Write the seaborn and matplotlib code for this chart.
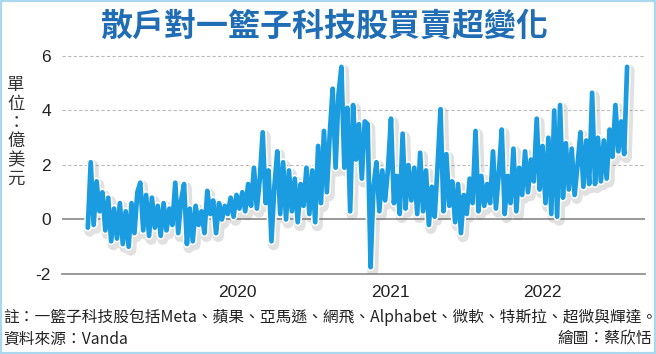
import pandas as pd
import matplotlib
matplotlib.use('Agg')
import matplotlib.pyplot as plt
import matplotlib.patheffects as pe
from matplotlib.patches import Rectangle
import seaborn as sns

# 散戶對一籃子科技股每週買賣超（億美元）
v2019 = [-0.3, 2.1, -0.2, 1.4, 0.3, 1.0, -0.4, 0.8, -0.8, 0.4,
         -0.7, 0.6, -0.9, 0.3, -1.0, 0.6, -0.5, 1.0, 1.35, -0.4,
         0.9, -0.6, 0.8, -0.3, 0.5, -0.6, 0.6, -0.4, 0.4, -0.2,
         1.35, -0.5, 0.7, 1.3, -0.9, 0.4, -0.8, 0.5, -0.2, 0.3,
         -0.5, 1.05, 0.2, 0.7, -0.5, 0.6, 0.0, 0.5, 0.2, 0.8,
         0.1, 0.9]
v2020 = [0.4, 1.0, 0.3, 1.3, 0.5, 1.9, 0.4, 1.5, 3.2, 0.6,
         1.8, -0.8, 1.2, 2.5, 0.2, 2.1, 0.0, 1.8, 0.3, 1.5,
         -0.1, 1.3, 0.5, 1.9, 0.2, 1.8, -0.1, 2.7, 0.6, 3.25,
         1.0, 3.15, 4.8, 1.9, 4.6, 5.6, 1.9, 4.1, 0.3, 4.2,
         2.2, 3.5, 1.5, 3.6, 3.5, -1.75, 1.2, 2.1, 0.3, 1.8,
         0.7, 1.9]
v2021 = [3.7, 0.6, 1.6, 0.2, 3.15, 0.4, 2.0, 0.7, 1.9, 0.2,
         2.45, 0.3, 1.8, -0.2, 1.2, 0.1, 2.0, 4.05, 0.3, 2.4,
         0.5, 1.4, -0.1, 1.3, -0.5, 0.9, 0.2, 1.5, 0.6, 3.25,
         0.3, 1.6, 0.5, 1.3, 0.6, 2.5, 0.4, 1.7, 3.3, 0.2,
         1.6, 0.6, 2.6, 0.3, 1.9, 0.9, 2.5, 1.0, 2.2, 1.4,
         3.7, 1.1]
v2022 = [2.7, 0.6, 3.0, 0.2, 4.0, 0.1, 4.2, 0.8, 2.8, 1.1,
         2.6, 0.9, 2.0, 3.2, 1.2, 2.9, 1.3, 4.65, 1.3, 3.0,
         1.4, 2.9, 1.5, 3.3, 2.3, 4.2, 2.5, 3.6, 2.4, 5.6]

values = v2019 + v2020 + v2021 + v2022
dates = pd.date_range('2019-01-06', periods=len(values), freq='7D')
df = pd.DataFrame({'date': dates, 'value': values})

year_ticks = ['2020-01-01', '2021-01-01', '2022-01-01']
year_labels = ['2020', '2021', '2022']
y_ticks = [-2, 0, 2, 4, 6]

sns.set_style('white')
plt.rcParams['font.family'] = ['Noto Sans CJK TC', 'DejaVu Sans']
num_font = ['Liberation Sans', 'DejaVu Sans']

fig = plt.figure(figsize=(6.56, 3.54), dpi=100)
ax = fig.add_axes([62 / 656, 80 / 354, (645 - 62) / 656, (274 - 50) / 354])

line_color = '#1b9be0'
sns.lineplot(data=df, x='date', y='value', ax=ax, color=line_color,
             linewidth=3.4, zorder=5)
ax.lines[0].set_path_effects([
    pe.SimpleLineShadow(offset=(1.5, -2.5), shadow_color='#777777', alpha=0.22, linewidth=8),
    pe.Stroke(linewidth=5.6, foreground='white'),
    pe.Normal(),
])

ax.set_xlim(pd.Timestamp('2018-11-05'), pd.Timestamp('2022-09-05'))
ax.set_ylim(-2, 6.22)

# 格線
for y in [2, 4, 6]:
    ax.axhline(y, color='#bbbbbb', linewidth=0.8, linestyle=(0, (3, 2)), zorder=1)
ax.axhline(0, color='#888888', linewidth=1.2, zorder=1)

for s in ['top', 'right', 'left']:
    ax.spines[s].set_visible(False)
ax.spines['bottom'].set_color('#888888')
ax.spines['bottom'].set_linewidth(1.2)

ax.set_xticks(pd.to_datetime(year_ticks))
ax.set_xticklabels(year_labels, fontsize=12.5, family=num_font)
ax.tick_params(axis='x', length=5, width=1, pad=3, colors='#888888', labelcolor='#222222')
ax.set_yticks(y_ticks)
ax.set_yticklabels([str(t) for t in y_ticks], fontsize=12.5, family=num_font)
ax.tick_params(axis='y', length=0, pad=8, labelcolor='#222222')
ax.set_xlabel('')
ax.set_ylabel('')

# 標題與註解
fig.text(0.495, 0.925, '散戶對一籃子科技股買賣超變化', ha='center', va='center',
         fontsize=23, fontweight='bold', color='#1f6db5')
fig.text(16 / 656, 1 - 132 / 354, '\n'.join('單位：億美元'), ha='center', va='center',
         fontsize=12.5, color='#333333', linespacing=1.05)
fig.text(3 / 656, 1 - 317 / 354,
         '註：一籃子科技股包括Meta、蘋果、亞馬遜、網飛、Alphabet、微軟、特斯拉、超微與輝達。',
         ha='left', va='center', fontsize=11.3, color='#222222')
fig.text(3 / 656, 1 - 339 / 354, '資料來源：Vanda', ha='left', va='center',
         fontsize=11.3, color='#222222')
fig.text(652 / 656, 1 - 339 / 354, '繪圖：蔡欣恬', ha='right', va='center',
         fontsize=11.3, color='#222222')

fig.patches.append(Rectangle((0, 0), 1, 1, transform=fig.transFigure, fill=False,
                             edgecolor='#a9d8ef', linewidth=3))

fig.savefig('out.png', dpi=100)
